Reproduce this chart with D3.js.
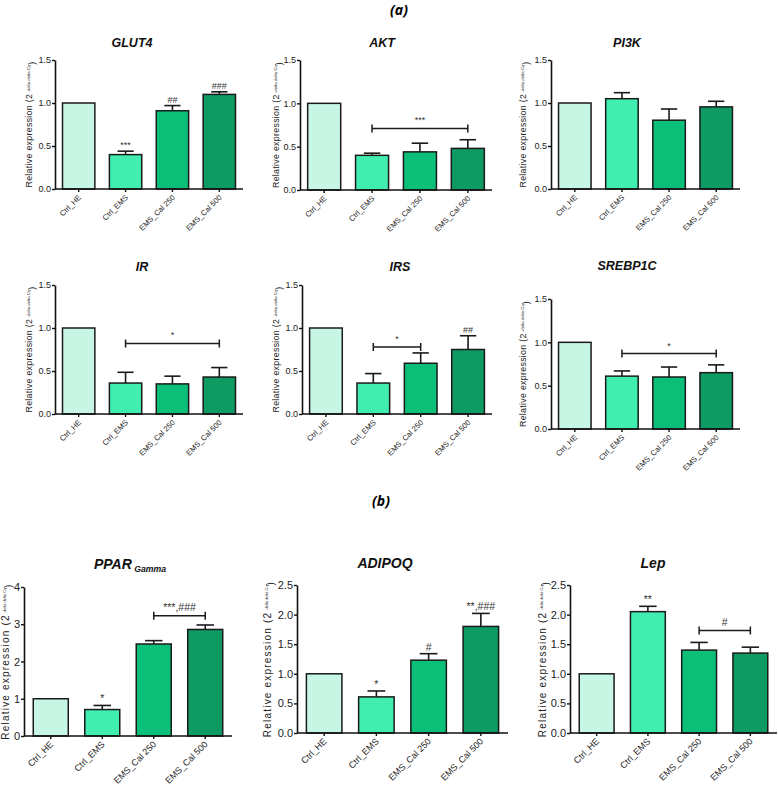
<!DOCTYPE html>
<html>
<head>
<meta charset="utf-8">
<script src="https://cdn.jsdelivr.net/npm/d3@7"></script>
<style>
  body { margin: 0; background: #fff; }
  svg { display: block; font-family: "Liberation Sans", Arial, sans-serif; }
</style>
</head>
<body>
<svg id="chart" width="778" height="788"></svg>
<script>
// ---------------- DATA ----------------
const categories = ["Ctrl_HE", "Ctrl_EMS", "EMS_Cal 250", "EMS_Cal 500"];
const barColors = ["#c8f6e5", "#41eeb0", "#0bbf78", "#0e9a62"];

const ticksSmall = [0, 0.5, 1.0, 1.5];
const ticksSmallLabels = ["0.0", "0.5", "1.0", "1.5"];
const ticksPpar = [0, 1, 2, 3, 4];
const ticksPparLabels = ["0", "1", "2", "3", "4"];
const ticksLarge = [0, 0.5, 1.0, 1.5, 2.0, 2.5];
const ticksLargeLabels = ["0.0", "0.5", "1.0", "1.5", "2.0", "2.5"];

const glut4Mean = [1.0, 0.40, 0.91, 1.10];
const glut4Sem  = [0, 0.04, 0.06, 0.03];
const aktMean   = [1.0, 0.40, 0.44, 0.48];
const aktSem    = [0, 0.025, 0.10, 0.10];
const pi3kMean  = [1.0, 1.05, 0.80, 0.955];
const pi3kSem   = [0, 0.07, 0.13, 0.065];
const irMean    = [1.0, 0.36, 0.35, 0.43];
const irSem     = [0, 0.125, 0.09, 0.11];
const irsMean   = [1.0, 0.36, 0.59, 0.75];
const irsSem    = [0, 0.11, 0.12, 0.16];
const srebpMean = [1.0, 0.61, 0.60, 0.65];
const srebpSem  = [0, 0.06, 0.115, 0.09];
const pparMean  = [1.0, 0.71, 2.47, 2.86];
const pparSem   = [0, 0.11, 0.09, 0.12];
const adipoqMean = [1.0, 0.61, 1.23, 1.80];
const adipoqSem  = [0, 0.10, 0.11, 0.22];
const lepMean    = [1.0, 2.05, 1.40, 1.35];
const lepSem     = [0, 0.09, 0.13, 0.10];

// significance marks over single bars: [barIndex, text]
const glut4Marks  = [[1, "***"], [2, "##"], [3, "###"]];
const irsMarks    = [[3, "##"]];
const pparMarks   = [[1, "*"]];
const adipoqMarks = [[1, "*"], [2, "#"], [3, "**,###"]];
const lepMarks    = [[1, "**"]];
// brackets: [fromIndex, toIndex, yValue, text]
const aktBrackets   = [[1, 3, 0.71, "***"]];
const irBrackets    = [[1, 3, 0.82, "*"]];
const irsBrackets   = [[1, 2, 0.78, "*"]];
const srebpBrackets = [[1, 3, 0.87, "*"]];
const pparBrackets  = [[2, 3, 3.23, "***,###"]];
const lepBrackets   = [[2, 3, 1.73, "#"]];

// ---------------- LAYOUT ----------------
const svg = d3.select("#chart");
svg.append("rect").attr("width", 778).attr("height", 788).attr("fill", "#fff");

const rowA = { pIn: 0.31, pOut: 0.16, tickFont: 9, xFont: 7.6, yLabFont: 8.8, supFont: 4.3, titleFont: 12.5, markFont: 9, letter: 0.3 };
const rowB = { pIn: 0.32, pOut: 0.18, tickFont: 11, xFont: 9, yLabFont: 10, supFont: 3.9, titleFont: 14, markFont: 10.5, letter: 1.2 };

const panels = [
  { title: "GLUT4", mean: glut4Mean, sem: glut4Sem, ticks: ticksSmall, tl: ticksSmallLabels, marks: glut4Marks, brackets: [],
    x0: 55, x1: 243, yTop: 60, yBot: 189, tx: 132, ty: 47, lab: 26, st: rowA },
  { title: "AKT", mean: aktMean, sem: aktSem, ticks: ticksSmall, tl: ticksSmallLabels, marks: [], brackets: aktBrackets,
    x0: 300, x1: 492, yTop: 60, yBot: 190, tx: 382, ty: 47, lab: 24, st: rowA },
  { title: "PI3K", mean: pi3kMean, sem: pi3kSem, ticks: ticksSmall, tl: ticksSmallLabels, marks: [], brackets: [],
    x0: 551, x1: 740, yTop: 60, yBot: 189, tx: 627, ty: 47, lab: 28, st: rowA },
  { title: "IR", mean: irMean, sem: irSem, ticks: ticksSmall, tl: ticksSmallLabels, marks: [], brackets: irBrackets,
    x0: 55, x1: 243, yTop: 285, yBot: 414, tx: 142, ty: 271, lab: 26, st: rowA },
  { title: "IRS", mean: irsMean, sem: irsSem, ticks: ticksSmall, tl: ticksSmallLabels, marks: irsMarks, brackets: irsBrackets,
    x0: 302, x1: 492, yTop: 285, yBot: 414, tx: 400, ty: 271, lab: 26, st: rowA },
  { title: "SREBP1C", mean: srebpMean, sem: srebpSem, ticks: ticksSmall, tl: ticksSmallLabels, marks: [], brackets: srebpBrackets,
    x0: 551, x1: 740, yTop: 299, yBot: 429, tx: 627, ty: 270, lab: 28, st: rowA },
  { title: "PPAR", sub: "Gamma", mean: pparMean, sem: pparSem, ticks: ticksPpar, tl: ticksPparLabels, marks: pparMarks, brackets: pparBrackets,
    x0: 24, x1: 232, yTop: 587, yBot: 736, tx: 130, ty: 569, lab: 19, st: rowB },
  { title: "ADIPOQ", mean: adipoqMean, sem: adipoqSem, ticks: ticksLarge, tl: ticksLargeLabels, marks: adipoqMarks, brackets: [],
    x0: 297, x1: 508, yTop: 585, yBot: 733, tx: 385, ty: 568, lab: 30, st: rowB },
  { title: "Lep", mean: lepMean, sem: lepSem, ticks: ticksLarge, tl: ticksLargeLabels, marks: lepMarks, brackets: lepBrackets,
    x0: 570, x1: 777, yTop: 585, yBot: 733, tx: 653, ty: 568, lab: 28, st: rowB }
];

// Section labels
svg.append("text").attr("x", 399).attr("y", 15).attr("text-anchor", "middle")
  .style("font-family", "'Open Sans', sans-serif").style("font-weight", "bold").style("font-style", "italic")
  .style("font-size", "14px").text("(a)");
svg.append("text").attr("x", 381).attr("y", 506).attr("text-anchor", "middle")
  .style("font-family", "'Open Sans', sans-serif").style("font-weight", "bold").style("font-style", "italic")
  .style("font-size", "14px").text("(b)");

panels.forEach(p => {
  const st = p.st;
  const g = svg.append("g");
  const x = d3.scaleBand().domain(categories).range([p.x0, p.x1]).paddingInner(st.pIn).paddingOuter(st.pOut);
  const ymax = p.ticks[p.ticks.length - 1];
  const y = d3.scaleLinear().domain([0, ymax]).range([p.yBot, p.yTop]);
  const data = categories.map((c, i) => ({ c, i, m: p.mean[i], s: p.sem[i] }));

  // error bars (drawn before bars so the lower part is hidden)
  const cap = x.bandwidth() * 0.25;
  data.filter(d => d.s > 0).forEach(d => {
    const cx = x(d.c) + x.bandwidth() / 2;
    g.append("line").attr("x1", cx).attr("x2", cx).attr("y1", y(d.m)).attr("y2", y(d.m + d.s))
      .attr("stroke", "#1a1a1a").attr("stroke-width", 1.6);
    g.append("line").attr("x1", cx - cap).attr("x2", cx + cap).attr("y1", y(d.m + d.s)).attr("y2", y(d.m + d.s))
      .attr("stroke", "#1a1a1a").attr("stroke-width", 1.6);
  });

  // bars
  g.selectAll("rect.bar").data(data).join("rect").attr("class", "bar")
    .attr("x", d => x(d.c)).attr("width", x.bandwidth())
    .attr("y", d => y(d.m)).attr("height", d => y(0) - y(d.m))
    .attr("fill", d => barColors[d.i]).attr("stroke", "#1a1a1a").attr("stroke-width", 1.5);

  // y axis
  const ya = g.append("g").attr("transform", `translate(${p.x0},0)`)
    .call(d3.axisLeft(y).tickValues(p.ticks).tickFormat((d, i) => p.tl[i]).tickSize(3).tickSizeOuter(0));
  ya.select(".domain").attr("stroke", "#111").attr("stroke-width", 1.6);
  ya.selectAll(".tick line").attr("stroke", "#111").attr("stroke-width", 1.4);
  ya.selectAll(".tick text").attr("x", -4).style("font-size", st.tickFont + "px")
    .style("font-family", "'Liberation Sans', Arial, sans-serif").attr("fill", "#222");

  // x axis
  const xa = g.append("g").attr("transform", `translate(0,${p.yBot})`)
    .call(d3.axisBottom(x).tickSize(3).tickSizeOuter(0));
  xa.select(".domain").attr("d", `M${p.x0},0H${p.x1}`).attr("stroke", "#111").attr("stroke-width", 1.6);
  xa.selectAll(".tick line").attr("stroke", "#111").attr("stroke-width", 1.4);
  xa.selectAll(".tick text").attr("x", 0).attr("y", 0).attr("dy", 0)
    .attr("text-anchor", "end").attr("transform", "translate(3,9) rotate(-45)")
    .style("font-size", st.xFont + "px").style("font-family", "'Liberation Sans', Arial, sans-serif").attr("fill", "#222");

  // y axis label
  const lab = g.append("text")
    .attr("transform", `translate(${p.x0 - p.lab},${(p.yTop + p.yBot) / 2}) rotate(-90)`)
    .attr("text-anchor", "middle").attr("dy", "0.35em")
    .style("font-size", st.yLabFont + "px").style("letter-spacing", st.letter + "px").attr("fill", "#222");
  lab.append("tspan").text("Relative expression (2");
  lab.append("tspan").attr("dy", "-0.6em").style("font-size", st.supFont + "px").style("letter-spacing", "0px")
    .text(" -delta delta Cq");
  lab.append("tspan").attr("dy", "0.6em").text(")");

  // title
  const t = g.append("text").attr("x", p.tx).attr("y", p.ty).attr("text-anchor", "middle")
    .style("font-weight", "bold").style("font-style", "italic").style("font-size", st.titleFont + "px").attr("fill", "#111");
  t.append("tspan").text(p.title);
  if (p.sub) t.append("tspan").attr("dy", "0.35em").style("font-size", (st.titleFont * 0.62) + "px").text(" " + p.sub);

  // marks
  p.marks.forEach(([i, txt]) => {
    const d = data[i];
    g.append("text").attr("x", x(d.c) + x.bandwidth() / 2).attr("y", y(d.m + d.s) - 3)
      .attr("text-anchor", "middle").style("font-size", st.markFont + "px").attr("fill", "#333").text(txt);
  });
  // brackets
  p.brackets.forEach(([a, b, yv, txt]) => {
    const xa1 = x(categories[a]) + x.bandwidth() / 2, xb1 = x(categories[b]) + x.bandwidth() / 2, yy = y(yv);
    g.append("path").attr("d", `M${xa1},${yy - 4}V${yy + 4}M${xa1},${yy}H${xb1}M${xb1},${yy - 4}V${yy + 4}`)
      .attr("fill", "none").attr("stroke", "#1a1a1a").attr("stroke-width", 1.5);
    g.append("text").attr("x", (xa1 + xb1) / 2).attr("y", yy - 5).attr("text-anchor", "middle")
      .style("font-size", st.markFont + "px").attr("fill", "#333").text(txt);
  });
});
</script>
</body>
</html>
